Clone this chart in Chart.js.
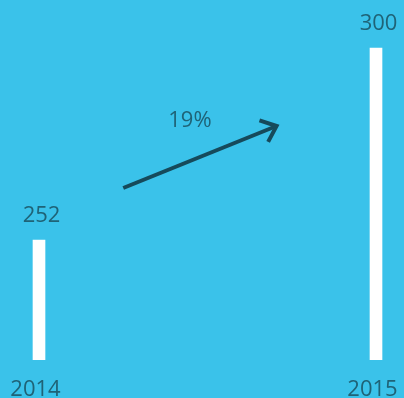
<!DOCTYPE html>
<html>
<head>
<meta charset="utf-8">
<script src="https://cdn.jsdelivr.net/npm/chart.js@4/dist/chart.umd.min.js"></script>
<style>
  html, body { margin: 0; padding: 0; background: #3ac2ea; }
  #wrap { width: 404px; height: 398px; }
</style>
</head>
<body>
<div id="wrap"><canvas id="chart" width="404" height="398"></canvas></div>
<script>
// データ
const years = ['2014', '2015'];
const visitors = [252, 300];
// 矢印（カテゴリ位置・値の空間で指定）
const arrowFrom = { x: 0.25, y: 265 };
const arrowTo = { x: 0.705, y: 280.5 };

const TEXT_COLOR = '#1f6377';
const ARROW_COLOR = '#164a5b';
const FONT = "22px 'Open Sans', sans-serif";

const growth = Math.round((visitors[1] - visitors[0]) / visitors[0] * 100) + '%';

// ラベルと矢印を描くプラグイン
const labelPlugin = {
    id: 'labels',
    afterDatasetsDraw(chart) {
        const ctx = chart.ctx;
        const xs = chart.scales.x;
        const ys = chart.scales.y;
        const area = chart.chartArea;

        ctx.save();
        ctx.font = FONT;
        ctx.fillStyle = TEXT_COLOR;
        ctx.textAlign = 'center';
        ctx.textBaseline = 'alphabetic';

        chart.getDatasetMeta(0).data.forEach((bar, i) => {
            ctx.fillText(String(visitors[i]), bar.x + 2.5, bar.y - 18);
            ctx.fillText(years[i], bar.x - 3.5, area.bottom + 36);
        });

        // 矢印
        const x1 = xs.getPixelForValue(arrowFrom.x);
        const y1 = ys.getPixelForValue(arrowFrom.y);
        const x2 = xs.getPixelForValue(arrowTo.x);
        const y2 = ys.getPixelForValue(arrowTo.y);
        const ang = Math.atan2(y2 - y1, x2 - x1);
        const head = 18;
        const spread = 40 * Math.PI / 180;

        ctx.strokeStyle = ARROW_COLOR;
        ctx.lineWidth = 4;
        ctx.lineJoin = 'miter';
        ctx.beginPath();
        ctx.moveTo(x1, y1);
        ctx.lineTo(x2, y2);
        ctx.stroke();
        ctx.beginPath();
        ctx.moveTo(x2 - head * Math.cos(ang - spread), y2 - head * Math.sin(ang - spread));
        ctx.lineTo(x2, y2);
        ctx.lineTo(x2 - head * Math.cos(ang + spread), y2 - head * Math.sin(ang + spread));
        ctx.stroke();

        ctx.fillText(growth, (x1 + x2) / 2 - 10, y2 + 1);
        ctx.restore();
    }
};

new Chart(document.getElementById('chart').getContext('2d'), {
    type: 'bar',
    data: {
        labels: years,
        datasets: [{
            data: visitors,
            backgroundColor: '#ffffff',
            borderWidth: 0,
            barThickness: 12,
            clip: { left: 10, right: 10, top: 0, bottom: 0 }
        }]
    },
    options: {
        responsive: false,
        animation: false,
        layout: { padding: { left: 39, right: 28, top: 0, bottom: 38 } },
        scales: {
            x: { display: false, offset: false, grid: { display: false } },
            y: { display: false, min: 222, max: 312 }
        },
        plugins: {
            legend: { display: false },
            tooltip: { enabled: false }
        }
    },
    plugins: [labelPlugin]
});
</script>
</body>
</html>
